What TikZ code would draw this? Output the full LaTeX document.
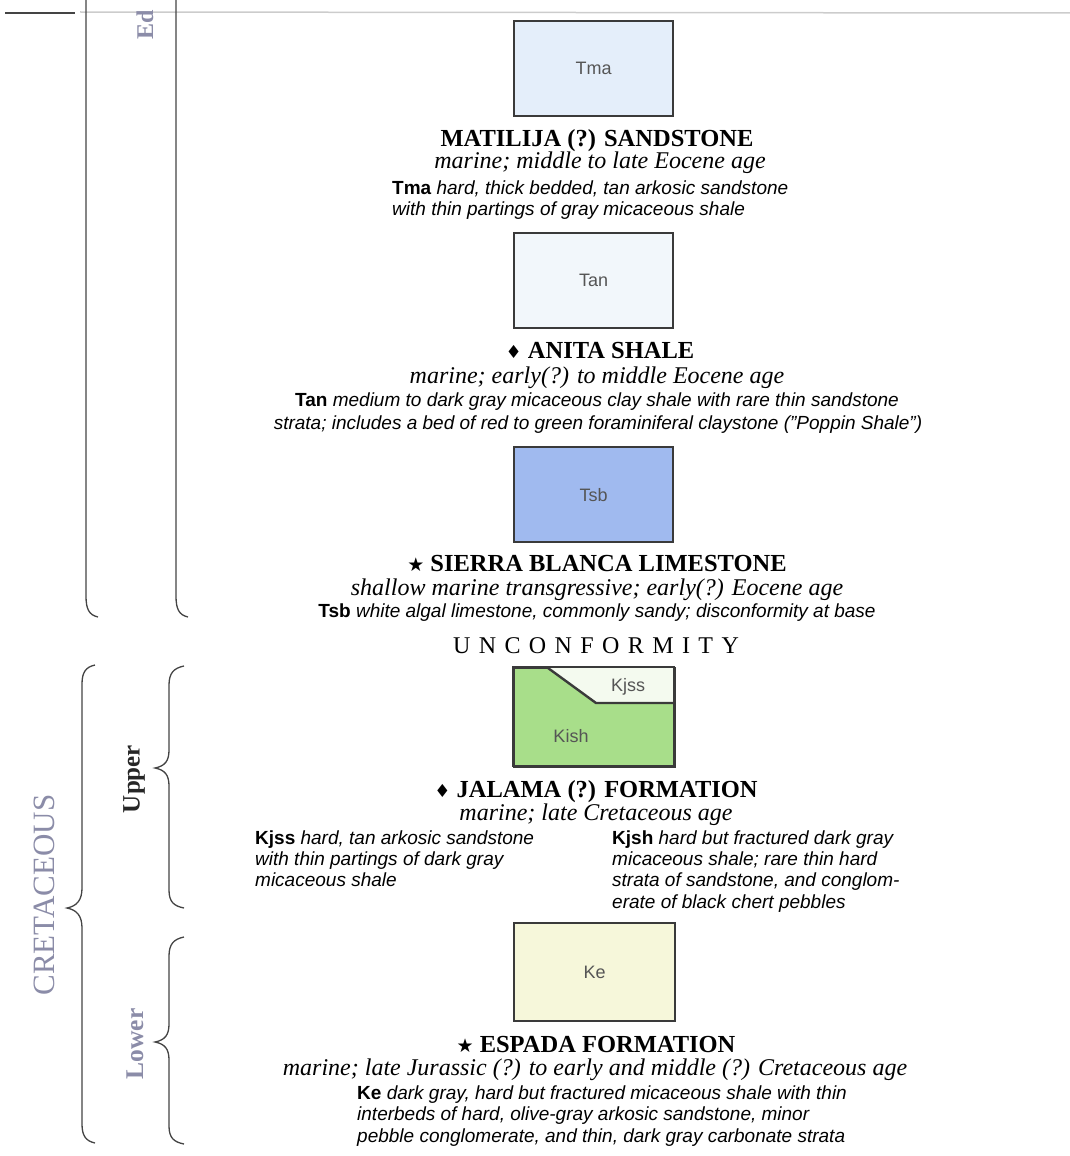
\documentclass[tikz,border=0pt]{standalone}
\usepackage{fontspec}
\setmainfont{Liberation Serif}
\setsansfont{Liberation Sans}
\newfontfamily\symfont{DejaVu Sans}
\newfontfamily\spacedfont[LetterSpace=35]{Liberation Serif}
\definecolor{boxline}{HTML}{3A3A3A}
\definecolor{labelgray}{HTML}{555555}
\definecolor{tmafill}{HTML}{E4EEFA}
\definecolor{tanfill}{HTML}{F2F7FB}
\definecolor{tsbfill}{HTML}{A0BAEF}
\definecolor{kishfill}{HTML}{A8DE8A}
\definecolor{kjssfill}{HTML}{F4FAEF}
\definecolor{kefill}{HTML}{F6F7DA}
\definecolor{epochcol}{HTML}{8B8CA8}
\definecolor{bracecol}{HTML}{444444}
\definecolor{rulegray}{HTML}{CCCCCC}
\begin{document}
\begin{tikzpicture}[x=1pt,y=-1pt,
  unitbox/.style={draw=boxline, line width=2.4pt, minimum width=159pt, minimum height=95pt,
    anchor=north west, inner sep=0, font=\sffamily\fontsize{18}{20}\selectfont, text=labelgray},
  boxlabel/.style={font=\sffamily\fontsize{18}{20}\selectfont, text=labelgray, inner sep=0},
  titletext/.style={font=\bfseries\fontsize{24.5}{28}\selectfont, anchor=base, inner sep=0},
  agetext/.style={font=\itshape\fontsize{24}{28}\selectfont, anchor=base, inner sep=0},
  desc/.style={font=\sffamily\itshape\fontsize{19}{21}\selectfont, anchor=base west, inner sep=0},
  descc/.style={desc, anchor=base},
  brace/.style={draw=bracecol, line width=1.3pt},
  sidelabel/.style={rotate=90, inner sep=0}
]
\useasboundingbox (0,0) rectangle (1070,1156);
\newcommand{\dmd}{{\symfont\fontsize{18}{18}\selectfont ♦}}
\newcommand{\str}{{\symfont\fontsize{19}{19}\selectfont ★}}
\newcommand{\cd}[1]{\textbf{\upshape #1}}

% top rule
\draw[bracecol, line width=1.5pt] (5,13) -- (75,13);
\draw[rulegray, line width=1.5pt] (80,12) -- (1070,13);

% Eocene braces (lower ends)
\draw[brace] (86,0) -- (86,596) .. controls (86,609) and (89,615) .. (98,617);
\draw[brace] (176,0) -- (176,596) .. controls (176,609) and (179,615) .. (188,617);
\node[sidelabel, font=\bfseries\fontsize{24}{26}\selectfont, text=epochcol, anchor=base west] (eocene) at (153,40) {Ed};

% Cretaceous braces
\draw[brace] (95,665) .. controls (86,667) and (82,672) .. (82,684) -- (82,888)
  .. controls (82,900) and (77,906) .. (67,908) .. controls (77,910) and (82,916) .. (82,928)
  -- (82,1124) .. controls (82,1136) and (86,1141) .. (95,1143);
\draw[brace] (184,666) .. controls (174,668) and (169,673) .. (169,685) -- (169,750)
  .. controls (169,761) and (165,766) .. (155,768) .. controls (165,770) and (169,775) .. (169,786)
  -- (169,890) .. controls (169,902) and (174,906) .. (184,908);
\draw[brace] (184,937) .. controls (174,939) and (169,944) .. (169,956) -- (169,1024)
  .. controls (169,1035) and (165,1040) .. (155,1042) .. controls (165,1044) and (169,1049) .. (169,1060)
  -- (169,1126) .. controls (169,1138) and (174,1142) .. (184,1144);

\node[sidelabel, font=\fontsize{31}{32}\selectfont, text=epochcol] (cret) at (44,895) {CRETACEOUS};
\node[sidelabel, font=\bfseries\fontsize{25}{26}\selectfont, text=black!85] (upper) at (134,779) {Upper};
\node[sidelabel, font=\bfseries\fontsize{25.5}{26}\selectfont, text=epochcol] (lower) at (135,1044) {Lower};

% Matilija
\node[unitbox, fill=tmafill] (tmabox) at (513,20) {Tma};
\node[titletext] (tmatitle) at (597,146) {MATILIJA (?) SANDSTONE};
\node[agetext] (tmaage) at (600,168) {marine; middle to late Eocene age};
\node[desc] (tmad1) at (392,194) {\cd{Tma} hard, thick bedded, tan arkosic sandstone};
\node[desc] (tmad2) at (392,215) {with thin partings of gray micaceous shale};

% Anita
\node[unitbox, fill=tanfill] (tanbox) at (513,232) {Tan};
\node[titletext] (tantitle) at (600,358) {\dmd\ ANITA SHALE};
\node[agetext] (tanage) at (597,383) {marine; early(?) to middle Eocene age};
\node[descc] (tand1) at (597,406) {\cd{Tan} medium to dark gray micaceous clay shale with rare thin sandstone};
\node[descc] (tand2) at (598,429) {strata; includes a bed of red to green foraminiferal claystone ("Poppin Shale")};

% Sierra Blanca
\node[unitbox, fill=tsbfill] (tsbbox) at (513,446) {Tsb};
\node[titletext] (tsbtitle) at (597,571) {\str\ SIERRA BLANCA LIMESTONE};
\node[agetext] (tsbage) at (597,595) {shallow marine transgressive; early(?) Eocene age};
\node[descc] (tsbd1) at (597,617) {\cd{Tsb} white algal limestone, commonly sandy; disconformity at base};
\node[anchor=base, inner sep=0, font=\spacedfont\fontsize{24}{26}\selectfont] (unconf) at (596,653) {UNCONFORMITY};

% Jalama
\node[unitbox, fill=kishfill, minimum width=161pt, minimum height=99pt] (kbox) at (513,667) {};
\fill[kjssfill] (548,668) -- (596,703) -- (673,703) -- (673,668) -- cycle;
\draw[boxline, line width=2.4pt] (548,668) -- (596,703) -- (674,703);
\draw[boxline, line width=2.4pt] (513,667) rectangle (674,766);
\node[boxlabel] (kjsslab) at (628,687) {Kjss};
\node[boxlabel] (kishlab) at (571,736) {Kish};
\node[titletext] (jaltitle) at (596,797) {\dmd\ JALAMA (?) FORMATION};
\node[agetext] (jalage) at (596,820) {marine; late Cretaceous age};
\node[desc] (kjss1) at (255,844) {\cd{Kjss} hard, tan arkosic sandstone};
\node[desc] (kjss2) at (255,865) {with thin partings of dark gray};
\node[desc] (kjss3) at (255,886) {micaceous shale};
\node[desc] (kjsh1) at (612,844) {\cd{Kjsh} hard but fractured dark gray};
\node[desc] (kjsh2) at (612,865) {micaceous shale; rare thin hard};
\node[desc] (kjsh3) at (612,886) {strata of sandstone, and conglom-};
\node[desc] (kjsh4) at (612,908) {erate of black chert pebbles};

% Espada
\node[unitbox, fill=kefill, minimum width=161pt, minimum height=98pt] (kebox) at (513,922) {Ke};
\node[titletext] (ketitle) at (596,1052) {\str\ ESPADA FORMATION};
\node[agetext] (keage) at (595,1075) {marine; late Jurassic (?) to early and middle (?) Cretaceous age};
\node[desc] (ked1) at (357,1099) {\cd{Ke} dark gray, hard but fractured micaceous shale with thin};
\node[desc] (ked2) at (357,1120) {interbeds of hard, olive-gray arkosic sandstone, minor};
\node[desc] (ked3) at (357,1142) {pebble conglomerate, and thin, dark gray carbonate strata};
\end{tikzpicture}
\end{document}
